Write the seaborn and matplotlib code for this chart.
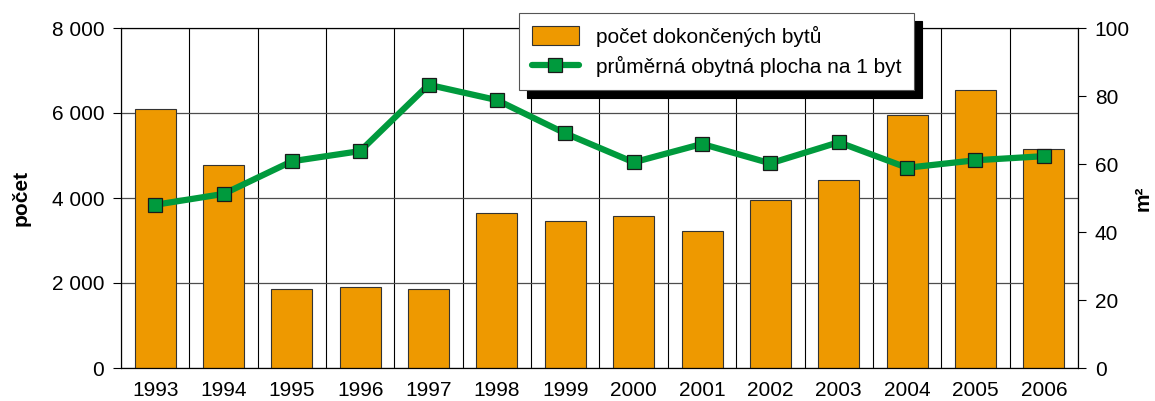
import matplotlib
matplotlib.use('Agg')
import matplotlib.pyplot as plt
import numpy as np
import pandas as pd
import seaborn as sns
from matplotlib.ticker import FuncFormatter, FixedLocator, MultipleLocator

years = ['1993', '1994', '1995', '1996', '1997', '1998', '1999',
         '2000', '2001', '2002', '2003', '2004', '2005', '2006']
# počet dokončených bytů
completed = [6100, 4780, 1850, 1910, 1850, 3640, 3470,
             3580, 3230, 3950, 4415, 5945, 6530, 5145]
# průměrná obytná plocha na 1 byt (m2)
avg_area = [48.0, 51.2, 60.8, 63.8, 83.3, 78.8, 69.0,
            60.5, 65.9, 60.2, 66.4, 58.9, 61.1, 62.3]

bar_label = 'počet dokončených bytů'
line_label = 'průměrná obytná plocha na 1 byt'

bar_color = '#EE9900'
line_color = '#009A3D'
fs = 15

sns.set_style('white')
plt.rcParams['font.family'] = ['Liberation Sans', 'DejaVu Sans']
plt.rcParams['font.size'] = fs
plt.rcParams['text.color'] = 'black'
plt.rcParams['axes.labelcolor'] = 'black'
plt.rcParams['xtick.color'] = 'black'
plt.rcParams['ytick.color'] = 'black'

df = pd.DataFrame({'rok': years, 'pocet': completed, 'plocha': avg_area})

fig = plt.figure(figsize=(11.55, 4.01), dpi=100)
ax = fig.add_axes([121 / 1155, 1 - 368 / 401, (1078 - 121) / 1155, 340 / 401])

sns.barplot(data=df, x='rok', y='pocet', ax=ax, color=bar_color, width=0.6,
            edgecolor='#333333', linewidth=0.8, saturation=1, zorder=2)
ax.set_xlim(-0.5, len(years) - 0.5)
ax.set_ylim(0, 8000)
ax.yaxis.set_major_locator(MultipleLocator(2000))
ax.yaxis.set_major_formatter(FuncFormatter(lambda v, p: f'{int(v):,}'.replace(',', ' ')))
ax.xaxis.set_minor_locator(FixedLocator(np.arange(len(years) + 1) - 0.5))
ax.grid(axis='y', which='major', color='#4d4d4d', linewidth=0.9, zorder=0)
ax.grid(axis='x', which='minor', color='black', linewidth=0.8, zorder=0)
ax.set_axisbelow(True)
ax.tick_params(axis='x', which='major', length=0, pad=9, labelsize=fs)
ax.tick_params(axis='x', which='minor', length=6, width=0.8, direction='out', color='black')
ax.tick_params(axis='y', length=6, width=0.8, direction='out', color='black', labelsize=fs, pad=6)
ax.set_xlabel('')
ax.set_ylabel('počet', fontweight='bold', fontsize=fs)
ax.yaxis.set_label_coords(-0.095, 0.5)
for s in ax.spines.values():
    s.set_color('black')
    s.set_linewidth(0.8)

ax2 = ax.twinx()
sns.lineplot(x=np.arange(len(years)), y=df['plocha'], ax=ax2, color=line_color,
             linewidth=4.5, marker='s', markersize=10, markerfacecolor=line_color,
             markeredgecolor='#1a1a1a', markeredgewidth=0.9, zorder=3)
ax2.set_ylim(0, 100)
ax2.yaxis.set_major_locator(MultipleLocator(20))
ax2.tick_params(axis='y', length=6, width=0.8, direction='out', color='black', labelsize=fs, pad=6)
ax2.set_ylabel('m²', fontweight='bold', fontsize=fs)
ax2.yaxis.set_label_coords(1.058, 0.5)
ax2.grid(False)
for s in ax2.spines.values():
    s.set_color('black')
    s.set_linewidth(0.8)

handles = [ax.patches[0], ax2.lines[0]]
leg = ax2.legend(handles, [bar_label, line_label], loc='upper left',
                 bbox_to_anchor=(519 / 1155, 1 - 13 / 401), bbox_transform=fig.transFigure,
                 frameon=True, fancybox=False, borderaxespad=0, fontsize=fs,
                 handlelength=2.3, handleheight=1.0, handletextpad=0.8,
                 labelspacing=0.45, borderpad=0.6,
                 shadow={'ox': 6, 'oy': -6, 'color': 'black', 'alpha': 1})
leg.get_frame().set_edgecolor('#555555')
leg.get_frame().set_linewidth(0.8)
leg.set_zorder(10)

fig.savefig('out.png', dpi=100)
